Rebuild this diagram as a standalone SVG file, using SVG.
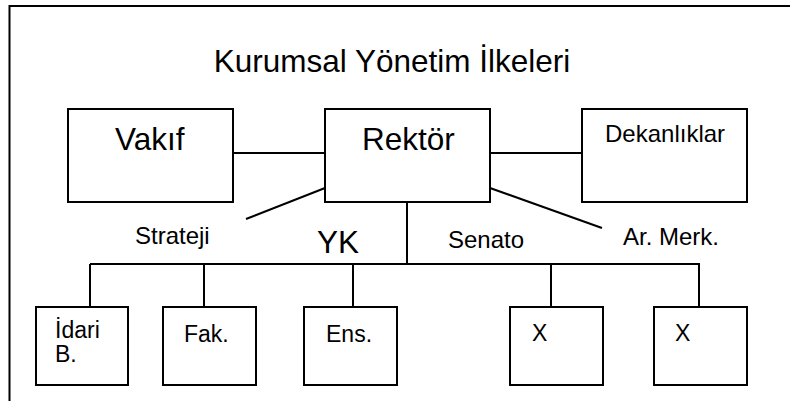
<svg xmlns="http://www.w3.org/2000/svg" width="790" height="401" viewBox="0 0 790 401">
  <style>
    .box { fill: #ffffff; stroke: #000000; stroke-width: 2; }
    .link { fill: none; stroke: #000000; stroke-width: 2; }
    .frame { fill: none; stroke: #000000; stroke-width: 2; }
    text { font-family: "Liberation Sans", Arial, sans-serif; fill: #000000; }
    .big { font-size: 31.5px; }
    .mid { font-size: 24px; }
    .small { font-size: 23px; }
  </style>

  <rect x="0" y="0" width="790" height="401" fill="#ffffff"/>

  <!-- frame (top and left edges) -->
  <path class="frame" d="M9.5 401 V6 H790"/>

  <text class="big" x="392" y="72" text-anchor="middle" font-size="31">Kurumsal Yönetim İlkeleri</text>

  <!-- connectors -->
  <g id="connectors">
    <line class="link" x1="233" y1="153" x2="325" y2="153"/>
    <line class="link" x1="490" y1="153" x2="582" y2="153"/>
    <line class="link" x1="325" y1="188" x2="246" y2="219"/>
    <line class="link" x1="490" y1="188" x2="602" y2="228"/>
    <line class="link" x1="407" y1="202" x2="407" y2="264"/>
    <line class="link" x1="90" y1="264" x2="700" y2="264"/>
    <line class="link" x1="90" y1="264" x2="90" y2="307"/>
    <line class="link" x1="204" y1="264" x2="204" y2="307"/>
    <line class="link" x1="353" y1="264" x2="353" y2="307"/>
    <line class="link" x1="551" y1="264" x2="551" y2="307"/>
    <line class="link" x1="699" y1="264" x2="699" y2="307"/>
  </g>

  <!-- connector labels -->
  <text class="mid" x="135" y="244">Strateji</text>
  <text class="big" x="317" y="253">YK</text>
  <text class="mid" x="448" y="248" font-size="25.5">Senato</text>
  <text class="mid" x="623" y="245">Ar. Merk.</text>

  <!-- top row -->
  <g id="vakif">
    <rect class="box" x="68" y="109" width="165" height="93"/>
    <text class="big" x="115" y="150">Vakıf</text>
  </g>
  <g id="rektor">
    <rect class="box" x="325" y="109" width="165" height="93"/>
    <text class="big" x="362" y="150">Rektör</text>
  </g>
  <g id="dekanliklar">
    <rect class="box" x="582" y="109" width="165" height="93"/>
    <text class="mid" x="605" y="142">Dekanlıklar</text>
  </g>

  <!-- bottom row -->
  <g id="idari">
    <rect class="box" x="36" y="307" width="92" height="78"/>
    <text class="small" x="55" y="338" font-size="21">İdari</text>
    <text class="small" x="55" y="362" font-size="21">B.</text>
  </g>
  <g id="fak">
    <rect class="box" x="163" y="307" width="93" height="78"/>
    <text class="small" x="184" y="342">Fak.</text>
  </g>
  <g id="ens">
    <rect class="box" x="304" y="307" width="93" height="78"/>
    <text class="small" x="326" y="342">Ens.</text>
  </g>
  <g id="x1">
    <rect class="box" x="510" y="307" width="93" height="78"/>
    <text class="small" x="532" y="341">X</text>
  </g>
  <g id="x2">
    <rect class="box" x="654" y="307" width="93" height="78"/>
    <text class="small" x="675" y="341">X</text>
  </g>
</svg>
